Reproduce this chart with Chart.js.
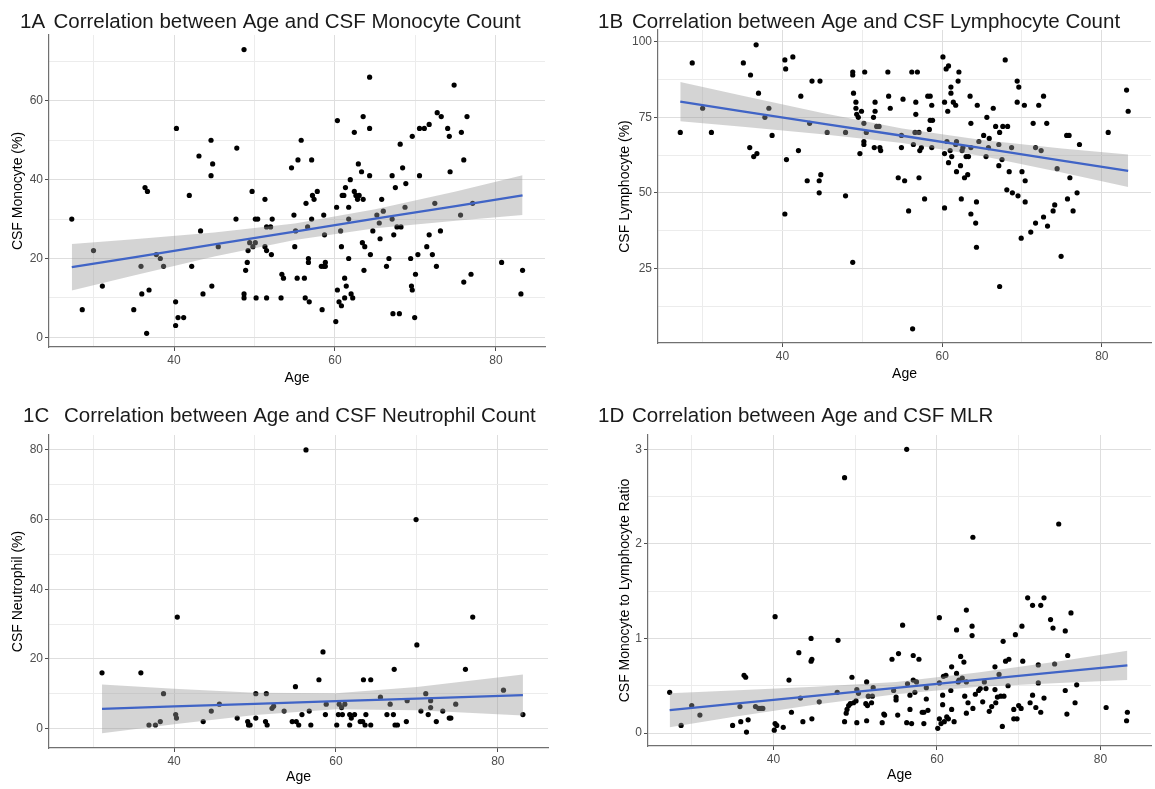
<!DOCTYPE html>
<html>
<head>
<meta charset="utf-8">
<script src="https://cdn.jsdelivr.net/npm/chart.js@4.4.1/dist/chart.umd.min.js"></script>
<style>
  body { margin: 0; background: #fff; }
  #wrap { position: relative; width: 1155px; height: 789px; overflow: hidden; }
  canvas { position: absolute; }
</style>
</head>
<body>
<div id="wrap">
  <canvas id="c1a" width="560" height="395" style="left:0;top:0"></canvas>
  <canvas id="c1b" width="575" height="395" style="left:580px;top:0"></canvas>
  <canvas id="c1c" width="560" height="394" style="left:0;top:395px"></canvas>
  <canvas id="c1d" width="575" height="394" style="left:580px;top:395px"></canvas>
</div>
<script>
// points are [age, value]
const monocyteA = [
  [27.3,30],[28.6,7],[30.0,22],[31.1,13],[35.0,7],[35.9,18],[36.0,11],[36.4,38],[36.7,37],[36.6,1],
  [36.9,12],[37.8,21],[38.3,20],[38.7,18],[40.2,3],[40.2,9],[40.3,53],[40.5,5],[41.2,5],[41.9,36],
  [42.2,18],[43.1,46],[43.3,27],[43.6,11],[44.6,50],[44.6,41],[44.7,13],[44.8,44],[45.5,23],[47.7,30],
  [47.8,48],[48.7,73],[48.7,11],[48.7,10],[48.9,17],[49.1,19],[49.2,22],[49.4,24],[49.7,37],[49.8,23],
  [50.1,24],[50.1,30],[50.2,10],[50.4,30],[51.3,35],[51.3,23],[51.5,22],[51.5,28],[51.5,10],[52.1,21],
  [52.0,28],[52.2,30],[53.3,10],[53.4,16],[53.6,15],[54.6,43],[54.9,31],[55.0,23],[55.1,27],[55.3,15],
  [55.4,45],[55.8,50],[56.2,15],[56.3,10],[56.4,34],[56.6,28],[56.8,9],[56.7,20],[56.7,19],[57.1,30],
  [57.1,45],[57.2,36],[57.4,35],[57.8,37],[58.3,18],[58.4,7],[58.6,31],[58.7,26],[58.6,18],[58.8,19],
  [58.8,18],[60.1,4],[60.2,33],[60.3,55],[60.3,12],[60.5,9],[60.7,27],[60.8,23],[60.8,8],[60.9,36],
  [61.1,36],[61.2,15],[61.2,10],[61.3,38],[61.4,13],[61.7,33],[61.7,30],[61.7,20],[61.9,40],[62.0,11],
  [62.2,10],[62.4,37],[62.4,52],[62.6,36],[62.8,35],[62.9,44],[63.0,36],[63.3,42],[63.4,24],[63.5,35],
  [63.5,56],[63.6,17],[63.7,23],[64.3,41],[64.3,66],[64.3,53],[64.4,21],[64.7,27],[65.2,31],[65.5,29],
  [65.6,25],[65.8,35],[66.0,32],[66.4,18],[66.7,20],[67.1,30],[67.1,41],[67.2,6],[67.3,26],[67.5,38],
  [67.7,28],[68.0,6],[68.1,49],[68.2,28],[68.4,43],[68.7,33],[68.8,39],[69.4,20],[69.5,13],[69.6,12],
  [69.6,51],[69.9,5],[70.0,16],[70.3,21],[70.5,53],[70.5,41],[71.1,53],[71.4,23],[71.7,26],[71.7,54],
  [72.1,21],[72.4,34],[72.6,18],[72.7,57],[73.2,56],[73.1,27],[74.0,53],[74.2,51],[74.3,42],[74.8,64],
  [75.6,31],[75.7,52],[76.0,14],[76.0,45],[76.4,56],[76.9,16],[77.1,34],[80.7,19],[83.1,11],[83.3,17]
];
const lymphocyteB = [
  [27.2,70],[28.7,93],[30.0,78],[31.1,70],[35.1,93],[35.9,65],[36.0,89],[36.4,62],[36.7,99],[36.8,63],
  [37.0,83],[37.8,75],[38.3,78],[38.7,69],[40.3,94],[40.4,91],[40.3,43],[40.5,61],[41.3,95],[42.0,64],
  [42.3,82],[43.1,54],[43.4,73],[43.7,87],[44.6,50],[44.6,54],[44.7,87],[44.8,56],[45.6,70],[47.9,70],
  [47.9,49],[48.8,27],[48.8,90],[48.8,89],[48.9,83],[49.2,80],[49.2,78],[49.3,76],[49.5,75],[49.7,63],
  [49.9,77],[50.2,73],[50.3,90],[50.2,67],[50.2,66],[50.5,70],[51.4,75],[51.6,80],[51.6,77],[51.5,65],
  [51.8,72],[52.1,72],[52.2,65],[52.3,64],[53.2,90],[53.3,82],[53.5,78],[54.5,55],[54.9,69],[54.9,65],
  [55.1,81],[55.3,54],[55.8,44],[56.2,90],[56.9,90],[56.3,5],[56.4,66],[56.6,70],[56.7,80],[56.7,76],
  [57.1,70],[57.1,55],[57.2,64],[57.4,65],[57.8,48],[58.2,82],[58.5,82],[58.4,71],[58.5,74],[58.8,74],
  [58.7,65],[58.7,79],[60.1,95],[60.3,63],[60.3,45],[60.3,80],[60.5,91],[60.8,92],[60.7,77],[60.8,60],
  [60.6,67],[61.0,64],[61.1,85],[61.1,83],[61.2,62],[61.4,80],[61.7,66],[61.7,79],[61.8,67],[61.8,57],
  [62.0,87],[62.1,90],[62.3,59],[62.4,48],[62.5,64],[62.6,65],[62.8,55],[63.0,62],[63.2,56],[63.3,62],
  [63.5,82],[63.6,43],[63.6,73],[63.6,65],[64.2,40],[64.3,47],[64.3,32],[64.4,79],[64.6,67],[65.2,69],
  [65.5,62],[65.6,75],[65.8,65],[65.9,68],[66.4,78],[66.7,72],[67.1,66],[67.1,59],[67.2,19],[67.2,70],
  [67.5,61],[67.6,72],[67.9,94],[68.1,51],[68.2,72],[68.4,57],[68.7,65],[68.8,50],[69.4,87],[69.5,49],
  [69.6,85],[69.4,80],[69.9,35],[70.0,57],[70.3,79],[70.4,54],[70.4,47],[71.1,37],[71.4,73],[71.7,40],
  [71.7,65],[72.1,79],[72.4,64],[72.7,82],[72.7,42],[73.1,73],[73.2,39],[73.9,44],[74.1,46],[74.4,58],
  [74.9,29],[75.6,69],[75.9,69],[75.7,48],[76.0,55],[76.4,44],[76.9,50],[77.2,66],[80.8,70],[83.1,84],
  [83.3,77]
];
const neutrophilC = [
  [31.1,16],[35.9,16],[36.9,1],[37.7,1],[38.3,2],[38.7,10],[40.2,4],[40.3,3],[40.4,32],[43.6,2],
  [44.6,5],[45.6,7],[47.8,3],[49.1,2],[49.2,1],[49.4,1],[50.1,10],[50.1,3],[51.3,2],[51.5,1],
  [51.4,10],[52.1,5.8],[52.3,6.4],[53.6,5],[54.6,2],[55.0,12],[55.1,2],[55.4,1],[55.8,4],[56.3,80],
  [56.7,5],[56.9,1],[57.9,14],[58.4,22],[58.7,4],[58.8,7],[60.1,1],[60.3,4],[60.4,7],[60.7,6],
  [60.8,4],[61.1,7],[61.7,4],[61.7,1],[61.9,3],[62.3,4],[63.0,2],[63.3,2],[63.4,14],[63.6,1],
  [63.7,4],[64.3,14],[64.3,1],[65.5,9],[66.3,4],[66.7,7],[67.1,4],[67.2,17],[67.3,1],[67.6,1],
  [68.7,2],[68.8,8],[69.9,60],[70.0,24],[70.5,5],[71.1,10],[71.4,4],[71.7,8],[71.7,6],[72.4,2],
  [73.2,5],[74.0,3],[74.2,3],[74.8,7],[76.0,17],[76.9,32],[80.7,11],[83.1,4]
];
const mlrD = [
  [27.3,0.43],[28.7,0.08],[30.0,0.29],[31.0,0.19],[35.0,0.08],[35.9,0.28],[36.0,0.12],[36.4,0.61],[36.6,0.59],[36.7,0.01],
  [36.9,0.14],[37.8,0.28],[38.2,0.26],[38.5,0.26],[38.7,0.26],[40.1,0.03],[40.2,0.10],[40.2,1.23],[40.4,0.08],[41.2,0.06],
  [41.9,0.56],[42.2,0.22],[43.1,0.85],[43.3,0.37],[43.6,0.12],[44.6,1.00],[44.6,0.76],[44.7,0.78],[44.7,0.15],[45.6,0.33],
  [47.8,0.43],[47.9,0.98],[48.7,2.70],[48.7,0.12],[48.9,0.21],[49.0,0.25],[49.2,0.29],[49.4,0.31],[49.6,0.59],[49.8,0.32],
  [50.1,0.34],[50.2,0.46],[50.2,0.11],[50.4,0.42],[51.3,0.31],[51.4,0.54],[51.4,0.13],[51.5,0.29],[51.6,0.39],[52.0,0.32],
  [52.1,0.39],[52.2,0.48],[53.3,0.11],[53.5,0.20],[53.6,0.19],[54.5,0.78],[54.7,0.45],[55.0,0.38],[55.0,0.35],[55.2,0.19],
  [55.3,0.84],[55.8,1.14],[56.3,3.00],[56.3,0.11],[56.4,0.52],[56.7,0.40],[56.7,0.25],[56.9,0.10],[57.1,0.56],[57.1,0.82],
  [57.3,0.43],[57.5,0.54],[57.8,0.78],[58.2,0.22],[58.4,0.10],[58.4,0.22],[58.7,0.36],[58.7,0.48],[58.9,0.24],[60.1,0.05],
  [60.3,1.22],[60.3,0.53],[60.3,0.15],[60.5,0.10],[60.7,0.40],[60.7,0.30],[60.8,0.60],[60.9,0.12],[61.1,0.61],[61.2,0.17],
  [61.4,0.15],[61.8,0.25],[61.7,0.45],[61.8,0.70],[62.1,0.12],[62.4,0.63],[62.4,1.09],[62.6,0.54],[62.7,0.56],[62.9,0.81],
  [63.1,0.58],[63.3,0.75],[63.4,0.39],[63.6,0.21],[63.6,0.54],[63.6,1.30],[63.8,0.32],[64.3,1.13],[64.3,1.03],[64.4,2.07],
  [64.4,0.26],[64.7,0.41],[65.1,0.45],[65.3,0.47],[65.6,0.33],[65.8,0.54],[66.0,0.47],[66.4,0.23],[66.7,0.28],[67.1,0.46],
  [67.1,0.70],[67.2,0.32],[67.4,0.38],[67.6,0.62],[67.8,0.39],[68.0,0.07],[68.1,0.97],[68.2,0.39],[68.4,0.76],[68.7,0.50],
  [68.8,0.78],[69.4,0.25],[69.4,0.15],[69.6,1.04],[69.8,0.15],[70.0,0.29],[70.3,0.26],[70.4,1.13],[70.5,0.76],[71.1,1.43],
  [71.4,0.32],[71.7,0.40],[71.7,1.35],[72.1,0.27],[72.4,0.53],[72.4,0.72],[72.7,1.35],[72.7,0.22],[73.1,0.37],[73.1,1.43],
  [73.9,1.20],[74.2,1.11],[74.4,0.73],[74.9,2.21],[75.7,1.08],[75.7,0.45],[75.9,0.20],[76.0,0.82],[76.4,1.27],[76.9,0.32],
  [77.1,0.51],[80.7,0.27],[83.2,0.13],[83.3,0.22]
];

// fitted line and confidence band
const fitAgeA = [27.3, 35, 45, 55, 65, 75, 83.3];
const fitA    = [17.8, 20.3, 23.6, 26.8, 30.1, 33.3, 36.0];
const upperA  = [23.7, 24.9, 26.6, 28.9, 32.5, 37.0, 41.1];
const lowerA  = [11.9, 15.7, 20.5, 24.7, 27.7, 29.6, 31.0];

const fitAgeB = [27.2, 35, 45, 55, 65, 75, 83.3];
const fitB    = [80.2, 77.0, 72.9, 68.9, 64.8, 60.7, 57.3];
const upperB  = [86.7, 82.1, 76.4, 71.3, 67.5, 64.7, 62.7];
const lowerB  = [73.7, 71.9, 69.4, 66.5, 62.2, 56.7, 51.9];

const fitAgeC = [31.1, 40, 50, 60, 70, 83.1];
const fitC    = [5.65, 6.33, 7.09, 7.85, 8.61, 9.6];
const upperC  = [12.65, 11.4, 10.3, 10.15, 11.95, 15.5];
const lowerC  = [-1.35, 1.2, 3.9, 5.55, 5.27, 3.7];

const fitAgeD = [27.3, 35, 45, 55, 65, 75, 83.3];
const fitD    = [0.243, 0.308, 0.393, 0.477, 0.562, 0.646, 0.716];
const upperD  = [0.42, 0.45, 0.49, 0.54, 0.64, 0.76, 0.87];
const lowerD  = [0.06, 0.17, 0.30, 0.41, 0.49, 0.53, 0.56];

// ticks (gridlines) and which of them carry labels
const ageTicks = [30, 40, 50, 60, 70, 80];
const ageLabels = [40, 60, 80];
const ticksA = [0, 10, 20, 30, 40, 50, 60, 70];
const labelsA = [0, 20, 40, 60];
const ticksB = [12.5, 25, 37.5, 50, 62.5, 75, 87.5, 100];
const labelsB = [25, 50, 75, 100];
const ticksC = [0, 10, 20, 30, 40, 50, 60, 70, 80];
const labelsC = [0, 20, 40, 60, 80];
const ticksD = [0, 0.5, 1, 1.5, 2, 2.5, 3];
const labelsD = [0, 1, 2, 3];

const FONT = '"Liberation Sans", Arial, sans-serif';
const MAJOR = '#dedede';
const MINOR = '#ececec';

const panelTitle = {
  id: 'panelTitle',
  afterDraw(chart, args, o) {
    const ctx = chart.ctx;
    ctx.save();
    ctx.fillStyle = '#1a1a1a';
    ctx.font = '20.5px ' + FONT;
    ctx.textBaseline = 'alphabetic';
    ctx.fillText(o.tag, o.tagX, o.y);
    ctx.fillText(o.text, o.textX, o.y);
    ctx.restore();
  }
};

function has(list, v) {
  return list.some(m => Math.abs(m - v) < 1e-9);
}

function pairs(xs, ys) {
  return xs.map((x, i) => ({x: x, y: ys[i]}));
}

function axis(p, ticks, labels, title, titlePad, horizontal) {
  return {
    type: 'linear',
    min: horizontal ? p.xMin : p.yMin,
    max: horizontal ? p.xMax : p.yMax,
    afterBuildTicks: s => { s.ticks = ticks.map(v => ({value: v})); },
    afterFit: s => { if (horizontal) s.height = p.xH; else s.width = p.yW; },
    grid: {
      color: c => (c.tick && has(labels, c.tick.value)) ? MAJOR : MINOR,
      tickColor: c => (c.tick && has(labels, c.tick.value)) ? '#4d4d4d' : 'rgba(0,0,0,0)',
      tickLength: 4,
      lineWidth: 1
    },
    border: {display: true, color: '#707070', width: 1.2},
    ticks: {
      color: '#4d4d4d',
      font: {family: FONT, size: 12},
      padding: 2,
      autoSkip: false,
      maxRotation: 0,
      callback: v => has(labels, v) ? String(v) : ''
    },
    title: {
      display: true,
      text: title,
      color: '#000',
      font: {family: FONT, size: 14},
      padding: horizontal ? {top: 0, bottom: titlePad} : {top: titlePad, bottom: 0}
    }
  };
}

function panel(id, p) {
  new Chart(document.getElementById(id), {
    type: 'scatter',
    data: {
      datasets: [
        {data: pairs(p.fitAge, p.fit), showLine: true, borderColor: '#4064c6', borderWidth: 2.3, pointRadius: 0,
         fill: false, order: 0},
        {data: pairs(p.fitAge, p.upper), showLine: true, borderColor: 'rgba(0,0,0,0)', pointRadius: 0,
         fill: '+1', backgroundColor: 'rgba(153,153,153,0.42)', order: 1},
        {data: pairs(p.fitAge, p.lower), showLine: true, borderColor: 'rgba(0,0,0,0)', pointRadius: 0,
         fill: false, order: 2},
        {data: p.points.map(d => ({x: d[0], y: d[1]})), pointRadius: 2.6, pointBackgroundColor: '#000',
         pointBorderWidth: 0, backgroundColor: '#000', order: 3}
      ]
    },
    options: {
      responsive: false,
      animation: false,
      devicePixelRatio: 1,
      layout: {padding: {top: p.padTop, right: p.padRight, left: 0, bottom: 0}},
      plugins: {
        legend: {display: false},
        tooltip: {enabled: false},
        filler: {drawTime: 'beforeDatasetDraw'},
        panelTitle: p.title
      },
      scales: {
        x: axis(p, ageTicks, ageLabels, 'Age', p.xTitlePad, true),
        y: axis(p, p.yTicks, p.yLabels, p.yTitle, p.yTitlePad, false)
      }
    },
    plugins: [panelTitle]
  });
}

panel('c1a', {
  points: monocyteA, fitAge: fitAgeA, fit: fitA, upper: upperA, lower: lowerA,
  xMin: 24.47, xMax: 86.09, yMin: -2.46, yMax: 76.7, yTicks: ticksA, yLabels: labelsA,
  yW: 49, xH: 48, padTop: 35, padRight: 15, xTitlePad: 8.6, yTitlePad: 10,
  yTitle: 'CSF Monocyte (%)',
  title: {tag: '1A', tagX: 20, text: 'Correlation between Age and CSF Monocyte Count', textX: 53.5, y: 28}
});

panel('c1b', {
  points: lymphocyteB, fitAge: fitAgeB, fit: fitB, upper: upperB, lower: lowerB,
  xMin: 24.41, xMax: 86.16, yMin: 0.3, yMax: 103.9, yTicks: ticksB, yLabels: labelsB,
  yW: 78, xH: 52, padTop: 30, padRight: 3, xTitlePad: 12.6, yTitlePad: 36.6,
  yTitle: 'CSF Lymphocyte (%)',
  title: {tag: '1B', tagX: 18, text: 'Correlation between Age and CSF Lymphocyte Count', textX: 52, y: 28}
});

panel('c1c', {
  points: neutrophilC, fitAge: fitAgeC, fit: fitC, upper: upperC, lower: lowerC,
  xMin: 24.55, xMax: 86.2, yMin: -5.6, yMax: 84.3, yTicks: ticksC, yLabels: labelsC,
  yW: 49, xH: 41, padTop: 40, padRight: 12, xTitlePad: 3.6, yTitlePad: 10,
  yTitle: 'CSF Neutrophil (%)',
  title: {tag: '1C', tagX: 23, text: 'Correlation between Age and CSF Neutrophil Count', textX: 64, y: 27.3}
});

panel('c1d', {
  points: mlrD, fitAge: fitAgeD, fit: fitD, upper: upperD, lower: lowerD,
  xMin: 24.65, xMax: 86.19, yMin: -0.137, yMax: 3.151, yTicks: ticksD, yLabels: labelsD,
  yW: 68, xH: 43, padTop: 40, padRight: 3, xTitlePad: 5.6, yTitlePad: 36.6,
  yTitle: 'CSF Monocyte to Lymphocyte Ratio',
  title: {tag: '1D', tagX: 18, text: 'Correlation between Age and CSF MLR', textX: 52, y: 27.3}
});
</script>
</body>
</html>
